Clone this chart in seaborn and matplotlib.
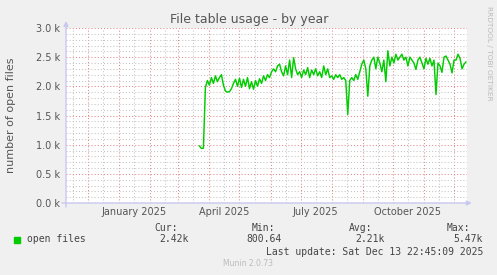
import matplotlib
matplotlib.use("Agg")
import matplotlib.pyplot as plt
import matplotlib.dates as mdates
from matplotlib.patches import Rectangle
from matplotlib.ticker import MultipleLocator, FuncFormatter
import seaborn as sns
import pandas as pd

# ---- data -------------------------------------------------------------
start_date = "2025-03-22"
step = "2D"
open_files = [
    980, 935, 940, 1980, 2100, 2020, 2150, 2050, 2180, 2080,
    2150, 2200, 2020, 1920, 1900, 1910, 1960, 2050, 2120, 2000,
    2140, 1980, 2120, 2000, 2150, 1960, 2080, 1950, 2100, 2000,
    2130, 2050, 2180, 2100, 2200, 2150, 2250, 2300, 2250, 2350,
    2380, 2250, 2180, 2350, 2200, 2450, 2150, 2490, 2300, 2200,
    2250, 2150, 2280, 2200, 2320, 2150, 2280, 2200, 2300, 2180,
    2250, 2150, 2350, 2200, 2300, 2150, 2180, 2120, 2200, 2150,
    2200, 2120, 2150, 2100, 1520, 2100, 2150, 2100, 2200, 2120,
    2250, 2380, 2450, 2300, 1830, 2350, 2450, 2500, 2300, 2500,
    2400, 2250, 2450, 2080, 2610, 2350, 2500, 2400, 2550, 2450,
    2500, 2550, 2450, 2500, 2350, 2500, 2450, 2400, 2290, 2450,
    2500, 2400, 2300, 2480, 2380, 2480, 2350, 2450, 1860, 2400,
    2350, 2240, 2500, 2520, 2450, 2380, 2230, 2450, 2450, 2550,
    2480, 2300, 2380, 2420,
]
x_labels = ["January 2025", "April 2025", "July 2025", "October 2025"]
x_label_dates = ["2025-01-16", "2025-04-16", "2025-07-16", "2025-10-16"]
title = "File table usage - by year"
y_title = "number of open files"
series_name = "open files"
stat_names = ["Cur:", "Min:", "Avg:", "Max:"]
stat_values = ["2.42k", "800.64", "2.21k", "5.47k"]
last_update = "Last update: Sat Dec 13 22:45:09 2025"
end_time = pd.Timestamp("2025-12-13 22:45:09")

df = pd.DataFrame({
    "date": pd.date_range(start_date, periods=len(open_files), freq=step),
    "value": open_files,
})

# ---- figure -------------------------------------------------------------
sns.set_style("white")
plt.rcParams["font.family"] = ["DejaVu Sans"]
W, H = 497, 275
fig = plt.figure(figsize=(W / 100, H / 100), dpi=100, facecolor="#F0F0F0")
ax = fig.add_axes([66 / W, 1 - 203 / H, 401 / W, 175 / H])
ax.set_facecolor("white")

txt = "#555555"
red = "#E38888"
gray = "#C4C4C4"
axcol = "#C8C8F0"

sns.lineplot(data=df, x="date", y="value", ax=ax, color="#00CC00",
             linewidth=1.05, zorder=5)

ax.set_xlim(end_time - pd.Timedelta(days=400), end_time)
ax.set_ylim(0, 3000)

# y grid
ax.yaxis.set_major_locator(MultipleLocator(500))
ax.yaxis.set_minor_locator(MultipleLocator(100))
ax.yaxis.set_major_formatter(FuncFormatter(lambda v, p: f"{v/1000:.1f} k"))
ax.grid(False)
ax.yaxis.grid(True, which="minor", color=gray, linestyle=(0, (1, 2)), linewidth=0.75)
ax.yaxis.grid(True, which="major", color=red, linestyle=(0, (1, 2)), linewidth=0.75)

# x grid: month starts (red), mid-month (gray)
ax.xaxis.set_major_locator(mdates.MonthLocator(bymonthday=1))
ax.xaxis.set_minor_locator(mdates.MonthLocator(bymonthday=16))
ax.xaxis.set_major_formatter(plt.NullFormatter())
ax.xaxis.grid(True, which="minor", color=gray, linestyle=(0, (1, 2)), linewidth=0.75)
ax.xaxis.grid(True, which="major", color=red, linestyle=(0, (1, 2)), linewidth=0.75)
ax.set_axisbelow(True)

ax.tick_params(axis="y", which="major", length=2, width=0.7, color="#AAAAAA",
               pad=2.3, labelsize=7, labelcolor=txt)
ax.tick_params(axis="y", which="minor", length=1.5, width=0.5, color="#CCCCCC")
ax.tick_params(axis="x", which="major", length=2.5, width=0.7, color=red)
ax.tick_params(axis="x", which="minor", length=1.5, width=0.5, color="#CCCCCC")

for s in ax.spines.values():
    s.set_visible(False)
ax.set_xlabel("")
ax.set_ylabel("")

for lab, d in zip(x_labels, x_label_dates):
    ax.text(mdates.date2num(pd.Timestamp(d)), -0.052, lab,
            transform=ax.get_xaxis_transform(), ha="center", va="center",
            fontsize=7, color=txt)

# axis lines with arrows
ax.annotate("", xy=(1.012, 0), xytext=(-0.01, 0), xycoords="axes fraction",
            arrowprops=dict(arrowstyle="-|>", color=axcol, lw=1.0,
                            mutation_scale=7, shrinkA=0, shrinkB=0),
            annotation_clip=False, zorder=6)
ax.annotate("", xy=(0, 1.04), xytext=(0, -0.023), xycoords="axes fraction",
            arrowprops=dict(arrowstyle="-|>", color=axcol, lw=1.0,
                            mutation_scale=7, shrinkA=0, shrinkB=0),
            annotation_clip=False, zorder=6)

# titles
fig.text(249 / W, 1 - 19 / H, title, ha="center", va="center",
         fontsize=9, color=txt)
fig.text(11 / W, 1 - 115 / H, y_title, ha="center", va="center",
         rotation=90, fontsize=8, color=txt)
fig.text(488.5 / W, 1 - 53 / H, "RRDTOOL / TOBI OETIKER", ha="center",
         va="center", rotation=270, fontsize=5.3, color="#BBBBBB")

# legend / stats
mono = "DejaVu Sans Mono"
lcol = "#444444"
fig.patches.append(Rectangle((14 / W, 1 - 243 / H), 6 / W, 6 / H,
                             transform=fig.transFigure, color="#00CC00"))
fig.text(27 / W, 1 - 239 / H, series_name, family=mono, fontsize=7,
         color=lcol, ha="left", va="center")
head_x = [154, 252, 349, 447]
val_right = [189, 282, 385, 483]
for n, hx, v, vr in zip(stat_names, head_x, stat_values, val_right):
    fig.text(hx / W, 1 - 228 / H, n, family=mono, fontsize=7, color=lcol,
             ha="left", va="center")
    fig.text(vr / W, 1 - 239 / H, v, family=mono, fontsize=7, color=lcol,
             ha="right", va="center")
fig.text(483 / W, 1 - 252 / H, last_update, family=mono, fontsize=7,
         color=lcol, ha="right", va="center")
fig.text(248 / W, 1 - 264 / H, "Munin 2.0.73", fontsize=5.5, color="#BBBBBB",
         ha="center", va="center")

fig.savefig("out.png", dpi=100, facecolor=fig.get_facecolor())
